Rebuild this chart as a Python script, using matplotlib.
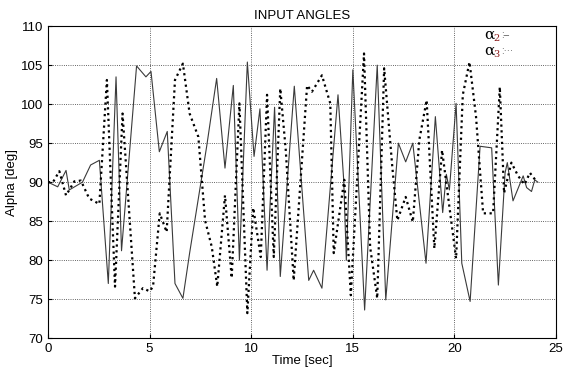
import numpy as np
import matplotlib
matplotlib.use("Agg")
import matplotlib.pyplot as plt

plt.rcParams['font.family'] = ['Liberation Sans', 'DejaVu Sans']

# alpha_2 (solid line): time [sec], angle [deg]
t2 = [0.0, 0.48, 0.89, 1.05, 1.7, 2.1, 2.53, 2.97, 3.35, 3.62, 4.36, 4.82, 5.07,
      5.48, 5.87, 6.25, 6.64, 6.97, 7.81, 8.3, 8.71, 9.12, 9.42, 9.81, 10.14,
      10.43, 10.78, 11.15, 11.43, 12.12, 12.83, 13.07, 13.48, 14.27, 14.55,
      14.68, 15.0, 15.58, 16.2, 16.62, 17.24, 17.6, 17.95, 18.6, 19.06, 19.42,
      19.6, 19.75, 20.08, 20.36, 20.77, 21.26, 21.83, 22.16, 22.49, 22.6,
      22.88, 23.38, 23.55, 23.79, 23.95, 24.1]
a2 = [90.0, 89.4, 91.5, 89.0, 90.0, 92.2, 92.8, 77.0, 103.5, 81.2, 104.9, 103.5,
      104.2, 93.9, 96.5, 77.0, 75.1, 80.9, 94.6, 103.3, 91.8, 102.4, 80.0, 105.4,
      93.3, 99.4, 78.7, 99.6, 77.9, 102.3, 77.4, 78.7, 76.4, 101.2, 90.3, 80.0,
      104.4, 73.6, 105.0, 74.9, 95.0, 92.6, 95.0, 79.6, 98.4, 86.1, 91.0, 89.0,
      100.1, 79.6, 74.7, 94.6, 94.4, 76.8, 91.2, 92.5, 87.6, 90.8, 89.3, 88.8,
      90.3, 90.0]

# alpha_3 (dotted line)
t3 = [0.0, 0.25, 0.56, 0.89, 1.3, 1.62, 2.03, 2.53, 2.9, 3.3, 3.67, 4.28, 4.67,
      5.0, 5.17, 5.5, 5.84, 6.25, 6.64, 6.97, 7.4, 7.73, 8.06, 8.33, 8.71, 9.04,
      9.42, 9.81, 10.1, 10.47, 10.78, 11.11, 11.43, 11.7, 12.09, 12.75, 12.99,
      13.48, 13.89, 14.06, 14.58, 14.9, 15.55, 15.85, 16.2, 16.54, 16.94, 17.19,
      17.6, 17.95, 18.27, 18.63, 19.01, 19.39, 20.08, 20.41, 20.74, 21.06,
      21.41, 21.9, 22.23, 22.44, 22.8, 23.13, 23.45, 23.71, 24.03]
a3 = [90.0, 90.0, 91.4, 88.3, 90.1, 90.2, 87.9, 87.2, 103.1, 76.6, 98.8, 75.1,
      76.4, 76.0, 76.6, 86.0, 83.6, 103.1, 105.2, 98.8, 95.8, 85.1, 81.7, 76.6,
      88.3, 77.7, 100.1, 73.2, 86.7, 80.4, 101.2, 80.4, 102.0, 94.1, 77.4, 102.4,
      101.6, 103.7, 100.1, 80.9, 90.3, 75.5, 106.5, 81.7, 75.1, 104.6, 92.0,
      85.1, 88.1, 84.9, 95.4, 100.5, 81.5, 94.1, 80.2, 101.2, 105.4, 98.4, 86.0,
      86.0, 102.2, 88.6, 92.5, 90.8, 89.7, 91.2, 90.1]

fig = plt.figure(figsize=(5.64, 3.74), dpi=100)
ax = fig.add_axes([0.085, 0.096, 0.901, 0.834])

ax.plot(t2, a2, '-', color='#3a3a3a', lw=0.8)
ax.plot(t3, a3, color='black', lw=1.6, linestyle=(0, (1, 1.6)))

ax.set_xlim(0, 25)
ax.set_ylim(70, 110)
ax.set_xticks(np.arange(0, 26, 5))
ax.set_yticks(np.arange(70, 111, 5))
ax.grid(True, linestyle=':', color='#333333', lw=0.6)
ax.tick_params(direction='in', labelsize=9.5, length=3)
for s in ax.spines.values():
    s.set_linewidth(0.8)

ax.set_xlabel('Time [sec]', fontsize=9.5, labelpad=0)
ax.set_ylabel('Alpha [deg]', fontsize=9.5, labelpad=2)
ax.set_title('INPUT ANGLES', fontsize=9.5, pad=5)

# legend-like labels
for i, (num, sym) in enumerate([('2', ':\u2013'), ('3', ':\u00b7\u00b7\u00b7')]):
    y = 0.972 - i * 0.052
    ax.text(0.858, y, '\u03b1', transform=ax.transAxes, fontsize=11,
            family='DejaVu Serif', va='center', ha='left')
    ax.text(0.877, y - 0.012, num, transform=ax.transAxes, fontsize=7,
            family='DejaVu Serif', color='#8b1a1a', va='center', ha='left')
    ax.text(0.892, y, sym, transform=ax.transAxes, fontsize=7,
            color='#555555', va='center', ha='left')

fig.savefig('out.png', dpi=100)
